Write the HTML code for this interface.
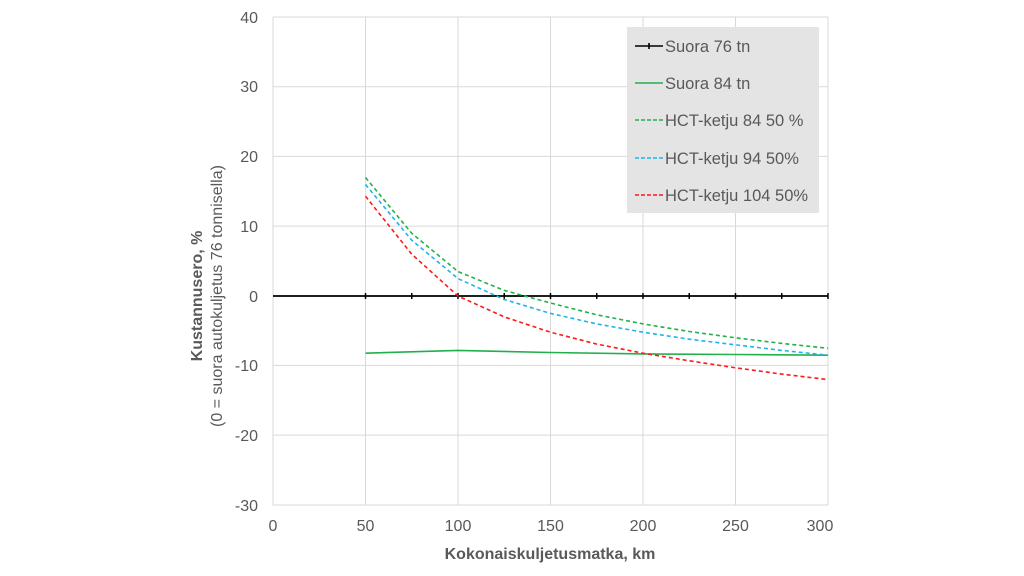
<!DOCTYPE html>
<html><head><meta charset="utf-8"><style>body{margin:0;background:#fff}svg{display:block;font-family:"Liberation Sans",sans-serif}</style></head><body>
<svg width="1024" height="576" viewBox="0 0 1024 576">
<g stroke="#d9d9d9" stroke-width="1">
<line x1="273" y1="17" x2="828" y2="17"/><line x1="273" y1="86.7" x2="828" y2="86.7"/><line x1="273" y1="156.4" x2="828" y2="156.4"/><line x1="273" y1="226.1" x2="828" y2="226.1"/><line x1="273" y1="365.4" x2="828" y2="365.4"/><line x1="273" y1="435.1" x2="828" y2="435.1"/><line x1="273" y1="505" x2="828" y2="505"/>
<line x1="365.5" y1="17" x2="365.5" y2="505"/><line x1="458" y1="17" x2="458" y2="505"/><line x1="550.5" y1="17" x2="550.5" y2="505"/><line x1="643" y1="17" x2="643" y2="505"/><line x1="735.5" y1="17" x2="735.5" y2="505"/><line x1="828" y1="17" x2="828" y2="505"/>
<line x1="273" y1="17" x2="273" y2="505"/>
</g>
<g fill="#595959" font-size="16" text-anchor="end">
<text x="258" y="23">40</text><text x="258" y="92">30</text><text x="258" y="162">20</text><text x="258" y="232">10</text><text x="258" y="302">0</text><text x="258" y="371">-10</text><text x="258" y="441">-20</text><text x="258" y="511">-30</text>
</g>
<g fill="#595959" font-size="16" text-anchor="middle">
<text x="273" y="531">0</text><text x="365.5" y="531">50</text><text x="458" y="531">100</text><text x="550.5" y="531">150</text><text x="643" y="531">200</text><text x="735.5" y="531">250</text><text x="820" y="531">300</text>
</g>
<text x="550" y="559" fill="#595959" font-size="16" font-weight="bold" text-anchor="middle">Kokonaiskuljetusmatka, km</text>
<text transform="translate(202,296) rotate(-90)" fill="#595959" font-size="16" font-weight="bold" text-anchor="middle">Kustannusero, %</text>
<text transform="translate(222,296) rotate(-90)" fill="#595959" font-size="16" text-anchor="middle">(0 = suora autokuljetus 76 tonnisella)</text>
<line x1="273" y1="296" x2="828" y2="296" stroke="#000" stroke-width="1.8"/>
<g stroke="#000" stroke-width="1.5"><line x1="365.5" y1="293" x2="365.5" y2="299"/><line x1="411.75" y1="293" x2="411.75" y2="299"/><line x1="458" y1="293" x2="458" y2="299"/><line x1="504.25" y1="293" x2="504.25" y2="299"/><line x1="550.5" y1="293" x2="550.5" y2="299"/><line x1="596.75" y1="293" x2="596.75" y2="299"/><line x1="643" y1="293" x2="643" y2="299"/><line x1="689.25" y1="293" x2="689.25" y2="299"/><line x1="735.5" y1="293" x2="735.5" y2="299"/><line x1="781.75" y1="293" x2="781.75" y2="299"/><line x1="828" y1="293" x2="828" y2="299"/></g>
<g fill="none" stroke-width="1.6">
<polyline stroke="#22b04c" points="365.5,353.2 458,350.4 550.5,352.5 643,353.9 735.5,354.5 828,355.2"/>
<polyline stroke="#22b04c" stroke-dasharray="4,3" points="365.5,177.5 411.75,233.3 458,271.6 504.25,290.4 550.5,303 596.75,314.8 643,323.9 689.25,331.5 735.5,337.8 781.75,343.4 828,348.3"/>
<polyline stroke="#1eb4f0" stroke-dasharray="4,3" points="365.5,184.5 411.75,240.2 458,278.6 504.25,299.5 550.5,313.4 596.75,323.9 643,332.2 689.25,339.2 735.5,344.8 781.75,350.4 828,355.2"/>
<polyline stroke="#ff1a1a" stroke-dasharray="4,3" points="365.5,196.3 411.75,254.2 458,296 504.25,316.9 550.5,332.2 596.75,344.1 643,353.2 689.25,360.8 735.5,367.8 781.75,374.1 828,379.6"/>
</g>
<rect x="627" y="27" width="192" height="186" fill="#e4e4e4"/>
<g stroke-width="1.6">
<line x1="635" y1="46" x2="663" y2="46" stroke="#000"/><line x1="649" y1="43" x2="649" y2="49" stroke="#000"/>
<line x1="635" y1="83" x2="663" y2="83" stroke="#22b04c"/>
<line x1="635" y1="120" x2="663" y2="120" stroke="#22b04c" stroke-dasharray="4,2"/>
<line x1="635" y1="158" x2="663" y2="158" stroke="#1eb4f0" stroke-dasharray="4,2"/>
<line x1="635" y1="195" x2="663" y2="195" stroke="#ff1a1a" stroke-dasharray="4,2"/>
</g>
<g fill="#595959" font-size="16.5">
<text x="665" y="52">Suora 76 tn</text><text x="665" y="89">Suora 84 tn</text><text x="665" y="126">HCT-ketju 84 50 %</text><text x="665" y="164">HCT-ketju 94 50%</text><text x="665" y="201">HCT-ketju 104 50%</text>
</g>
</svg>
</body></html>
